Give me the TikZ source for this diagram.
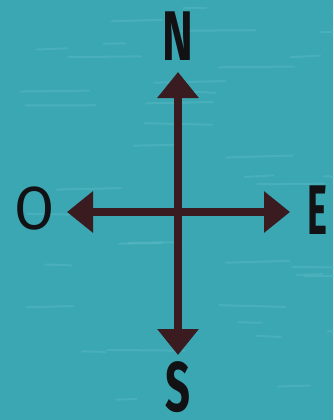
\documentclass[tikz,border=0pt]{standalone}
\usepackage{fontspec}
\setmainfont{Fira Sans}
\usetikzlibrary{arrows.meta}
\definecolor{seateal}{HTML}{3BA7B3}
\definecolor{sealight}{HTML}{6CC3CC}
\definecolor{arrowbrown}{HTML}{3A1B1F}
\definecolor{letterblack}{HTML}{121214}
\tikzset{
  compassline/.style={arrowbrown, line width=0.25cm, -{Triangle[length=0.78cm,width=1.2cm]}},
  pointlabel/.style={inner sep=0pt, text=letterblack, font=\fontsize{60}{60}\selectfont\bfseries},
  westlabel/.style={inner sep=0pt, text=letterblack, font=\fontsize{52}{52}\selectfont},
  streak/.style={sealight, opacity=0.3, line width=0.06cm, line cap=round}
}
\begin{document}
\begin{tikzpicture}[x=0.03cm, y=-0.03cm]
  % water background
  \fill[seateal] (0,0) rectangle (333,420);
  \useasboundingbox (0,0) rectangle (333,420);
  \pgfmathsetseed{7}
  \foreach \i in {1,...,40}{
    \pgfmathsetmacro{\sx}{rnd*333}
    \pgfmathsetmacro{\sy}{rnd*420}
    \pgfmathsetmacro{\sl}{20+rnd*60}
    \draw[streak] (\sx,\sy) -- ++(\sl,{rnd*4-2});
  }
  \coordinate (centre) at (178,212);
  \coordinate (tipN) at (178,72);
  \coordinate (tipS) at (178,355);
  \coordinate (tipW) at (67,212);
  \coordinate (tipE) at (290,212);
  \node[pointlabel] (N) at (178,36) {\scalebox{0.66}[1]{N}};
  \node[pointlabel] (S) at (178,387) {\scalebox{0.62}[1]{S}};
  \node[pointlabel] (E) at (317,210) {\scalebox{0.54}[1]{E}};
  \node[westlabel] (O) at (35,209) {\scalebox{0.95}[1]{O}};
  \draw[compassline] (centre) -- (tipN);
  \draw[compassline] (centre) -- (tipS);
  \draw[compassline] (centre) -- (tipW);
  \draw[compassline] (centre) -- (tipE);
\end{tikzpicture}
\end{document}
